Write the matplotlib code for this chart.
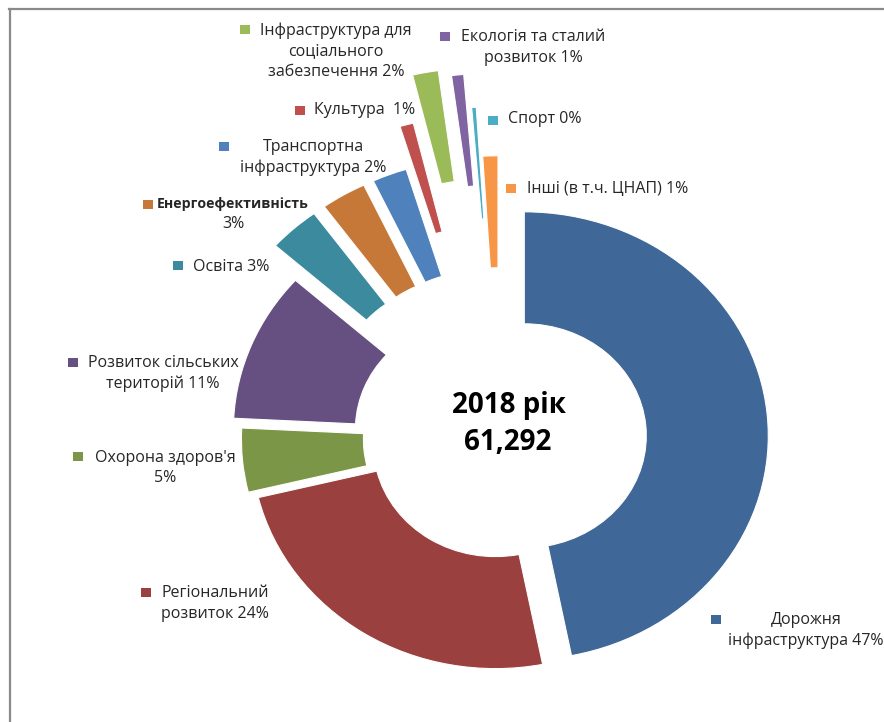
"""Budget breakdown for 2018: exploded doughnut with Excel-style labels."""
import matplotlib
matplotlib.use("Agg")
import matplotlib.pyplot as plt  # noqa: E402
from matplotlib.lines import Line2D  # noqa: E402
from matplotlib.patches import Rectangle  # noqa: E402

W, H = 884, 722

# Share of the total per direction, percent (clockwise from 12 o'clock).
CATEGORIES = ["Дорожня\nінфраструктура", "Регіональний\nрозвиток",
              "Охорона здоров'я\n", "Розвиток сільських\nтериторій",
              "Освіта", "Енергоефективність\n", "Транспортна\nінфраструктура",
              "Культура ", "Інфраструктура для\nсоціального\nзабезпечення",
              "Екологія та сталий\nрозвиток", "Спорт", "Інші (в т.ч. ЦНАП)"]
SHARES = [46.9, 24.3, 4.6, 10.8, 3.4, 3.0, 2.3, 0.9, 1.7, 0.8, 0.3, 1.0]
YEAR = 2018
TOTAL = "61,292"

COLORS = ["#3f6797", "#9a403e", "#7c9647", "#665082", "#3c8a9e", "#c67838",
          "#4f81bd", "#c0504d", "#9bbb59", "#8064a2", "#4bacc6", "#f79646"]
EXPLODE = [0.10, 0.035, 0.06, 0.10, 0.26, 0.26, 0.26, 0.45, 0.66, 0.63,
           0.48, 0.26]

# label placement in pixels: square centre (x, y), text anchor (x, y), align
LABEL_POS = [
    ((716, 619), (806, 620), "center"),
    ((146, 592), (215, 593), "center"),
    ((78, 457), (165, 458), "center"),
    ((73, 362), (163, 363), "center"),
    ((178, 266), (193, 267), "left"),
    ((148, 204), (233, 204), "center"),
    ((224, 146), (313, 147), "center"),
    ((300, 110), (314, 110), "left"),
    ((245, 29), (336, 31), "center"),
    ((445, 36), (533, 37), "center"),
    ((493, 120), (508, 119), "left"),
    ((511, 188), (527, 189), "left"),
]

FONT = ["Open Sans", "DejaVu Sans"]
plt.rcParams["font.family"] = FONT
LINE = 20.5  # px between label lines
SIZE = 11.5


def fx(x):
    return x / W


def fy(y):
    return 1 - y / H


fig = plt.figure(figsize=(W / 100, H / 100), dpi=100)
ax = fig.add_axes([0, 0, 1, 1])
ax.pie(SHARES, colors=COLORS, explode=EXPLODE, startangle=90,
       counterclock=False, radius=1.0,
       wedgeprops=dict(width=0.5, edgecolor="white", linewidth=0.8))
# the chart area is wider than tall, so the ring is stretched sideways
ax.set_aspect("auto")
ax.set_xlim(-500 / 244, 384 / 244)
ax.set_ylim(-284 / 224, 438 / 224)
ax.axis("off")

fig.text(fx(509), fy(406), f"{YEAR} рік", ha="center", va="center",
         fontsize=20, fontweight="bold", color="black")
fig.text(fx(508), fy(442), TOTAL, ha="center", va="center",
         fontsize=20, fontweight="bold", color="black")

for name, share, color, (sq, tx, align) in zip(CATEGORIES, SHARES, COLORS,
                                               LABEL_POS):
    pct = f"{int(share + 0.5)}%"
    lines = name.split("\n")
    if lines[-1] == "":
        lines[-1] = pct
    else:
        lines[-1] = f"{lines[-1]} {pct}"
    fig.add_artist(Rectangle((fx(sq[0] - 5), fy(sq[1] + 4.5)), 10 / W, 9 / H,
                             transform=fig.transFigure, color=color, lw=0))
    for i, line in enumerate(lines):
        bold = name.startswith("Енерго") and i == 0
        fig.text(fx(tx[0]), fy(tx[1] + i * LINE), line, ha=align,
                 va="center", fontsize=10.2 if bold else SIZE,
                 color="#262626", fontweight="bold" if bold else "normal")

# grey chart-area border along the top and left edges
fig.add_artist(Line2D([fx(9), 1], [fy(9), fy(9)], transform=fig.transFigure,
                      color="#8a8a8a", lw=1.6))
fig.add_artist(Line2D([fx(10), fx(10)], [fy(9), 0], transform=fig.transFigure,
                      color="#8a8a8a", lw=1.6))

fig.savefig("out.png", dpi=100)
